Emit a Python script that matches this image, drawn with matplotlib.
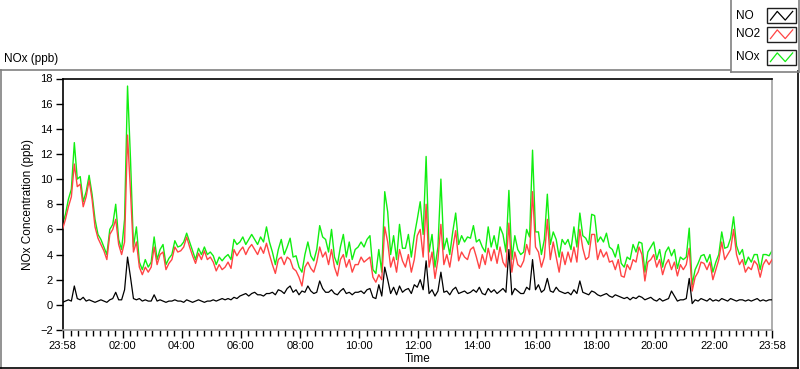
import numpy as np
import matplotlib
matplotlib.use("Agg")
import matplotlib.pyplot as plt
from matplotlib.lines import Line2D
from matplotlib.patches import Rectangle

# ---------------- data (6-minute samples from 23:58 to 23:58) ----------------
step_min = 6
no2 = [
    6.0, 6.8, 7.8, 8.6, 11.2, 9.4, 9.6, 7.8, 8.6, 9.9,
    8.4, 6.2, 5.3, 4.8, 4.3, 3.6, 5.6, 6.0, 6.8, 4.8,
    4.0, 5.0, 13.5, 9.0, 4.2, 5.0, 3.0, 2.4, 3.0, 2.6,
    3.0, 4.6, 3.2, 4.0, 4.2, 2.8, 3.3, 3.6, 4.6, 4.2,
    4.3, 4.6, 5.4, 4.6, 3.9, 3.3, 4.1, 3.6, 4.3, 3.6,
    3.8, 3.4, 2.7, 3.2, 2.8, 3.0, 3.4, 2.9, 4.4, 3.9,
    4.3, 4.6, 4.0, 4.5, 4.8, 4.4, 4.0, 4.6, 4.1, 4.9,
    4.0, 3.2, 2.5, 3.6, 3.8, 3.2, 3.8, 3.6, 2.9, 2.7,
    2.2, 1.5, 3.0, 3.4, 2.9, 2.6, 3.4, 4.6, 3.8, 4.2,
    3.2, 4.4, 3.0, 2.3, 3.6, 4.0, 3.0, 3.6, 2.6, 3.2,
    3.2, 3.8, 3.4, 3.6, 3.8, 2.2, 1.8, 2.4, 2.0, 6.2,
    5.0, 3.0, 3.8, 2.6, 4.4, 3.5, 3.0, 4.0, 2.6, 3.6,
    5.5, 6.0, 3.8, 8.0, 3.0, 4.2, 2.1, 3.6, 6.4, 3.2,
    4.0, 3.0, 4.5, 5.9, 3.5, 4.2, 3.8, 3.6, 4.4, 4.6,
    3.8, 2.9, 4.0, 3.2, 4.5, 3.5, 4.4, 3.3, 4.6, 3.4,
    3.0, 6.5, 2.6, 4.2, 3.2, 3.0, 3.5, 4.8, 4.0, 9.0,
    4.6, 4.2, 3.0, 3.8, 6.8, 3.6, 5.0, 3.8, 2.6, 4.2,
    3.2, 4.2, 3.4, 4.6, 3.4, 6.0, 4.5, 3.6, 3.8, 5.6,
    5.6, 3.6, 4.4, 3.8, 4.2, 3.4, 3.5, 2.8, 3.6, 2.3,
    2.2, 3.2, 2.8, 3.6, 3.4, 4.6, 4.0, 1.9, 3.4, 3.6,
    4.0, 3.0, 3.6, 2.4, 3.2, 3.6, 2.8, 3.4, 2.3, 3.2,
    2.8, 3.2, 4.5, 1.1, 2.2, 2.6, 3.4, 3.3, 2.8, 3.4,
    2.0, 2.8, 3.6, 5.0, 3.6, 4.0, 4.4, 6.0, 4.0, 3.2,
    3.6, 2.6, 3.0, 2.8, 3.5, 3.2, 2.2, 3.2, 3.6, 3.2,
    3.6]

nox = [
    6.4, 7.2, 8.4, 9.2, 12.9, 10.0, 10.2, 8.2, 9.0, 10.3,
    8.8, 6.8, 5.6, 5.2, 4.6, 4.0, 6.0, 6.4, 8.0, 5.2,
    4.4, 6.8, 17.4, 11.6, 4.6, 6.2, 3.4, 2.8, 3.6, 3.0,
    3.4, 5.4, 3.6, 4.4, 4.8, 3.2, 3.7, 4.0, 5.1, 4.6,
    4.7, 5.0, 5.7, 5.0, 4.3, 3.6, 4.5, 4.0, 4.6, 4.0,
    4.2, 3.9, 3.2, 3.8, 3.5, 3.8, 4.0, 3.6, 5.2, 4.8,
    5.0, 5.4, 4.8, 5.2, 5.6, 5.2, 4.8, 5.4, 5.0, 6.2,
    5.0, 4.2, 3.2, 4.4, 5.2, 4.0, 4.6, 5.3, 3.8, 3.9,
    3.0, 2.6, 4.0, 5.0, 3.9, 3.5, 4.4, 6.3, 5.4, 5.2,
    4.2, 6.0, 3.8, 3.2, 4.6, 5.6, 3.8, 5.0, 3.6, 4.4,
    4.6, 5.0, 4.6, 5.2, 5.5, 2.8, 2.5, 4.4, 2.6, 9.0,
    7.4, 4.0, 5.5, 3.6, 6.4, 4.5, 4.5, 5.6, 3.8, 5.5,
    6.8, 8.2, 5.6, 11.8, 4.2, 5.6, 3.0, 4.6, 10.0, 4.4,
    5.3, 4.0, 5.8, 7.3, 4.8, 5.5, 5.0, 5.4, 5.3, 6.3,
    5.0, 5.2, 4.6, 4.2, 6.2, 4.6, 5.5, 4.4, 6.2, 5.6,
    4.2, 9.1, 3.6, 5.5, 4.4, 4.0, 4.2, 6.0, 5.4, 12.3,
    5.8, 5.8, 4.0, 5.2, 8.8, 4.8, 5.8, 5.2, 3.8, 5.2,
    4.8, 5.2, 4.4, 6.2, 4.6, 7.3, 5.5, 5.3, 4.8, 7.2,
    7.1, 5.0, 5.4, 5.0, 5.7, 4.6, 4.4, 3.8, 4.8, 3.3,
    3.0, 3.8, 3.6, 4.8, 4.2, 5.0, 4.9, 2.6, 4.2, 4.6,
    5.0, 3.6, 4.4, 3.0, 4.2, 4.6, 3.9, 4.4, 2.9, 3.8,
    3.6, 3.8, 6.1, 1.6, 2.8, 3.3, 3.9, 4.0, 3.4, 4.0,
    2.6, 3.4, 4.0, 5.8, 4.5, 4.6, 5.3, 7.0, 4.7, 4.0,
    4.4, 3.2, 3.8, 3.4, 4.0, 4.0, 2.8, 4.0, 4.0, 3.9,
    4.3]

no = [
    0.2, 0.3, 0.4, 0.3, 1.5, 0.5, 0.4, 0.6, 0.3, 0.4,
    0.3, 0.2, 0.3, 0.4, 0.3, 0.2, 0.4, 0.5, 1.0, 0.4,
    0.4, 1.2, 3.8, 2.2, 0.5, 0.4, 0.5, 0.3, 0.4, 0.3,
    0.3, 0.8, 0.3, 0.4, 0.3, 0.2, 0.3, 0.3, 0.4, 0.3,
    0.3, 0.2, 0.4, 0.3, 0.2, 0.3, 0.4, 0.3, 0.2, 0.3,
    0.3, 0.4, 0.3, 0.4, 0.5, 0.4, 0.5, 0.4, 0.6, 0.5,
    0.7, 0.8, 0.9, 0.7, 0.9, 1.0, 0.8, 0.8, 0.7, 0.9,
    0.9, 1.0, 0.8, 1.2, 1.1, 0.9, 1.3, 1.5, 1.0, 1.2,
    0.8, 1.1, 1.0, 1.5, 1.1, 0.9, 1.0, 1.9, 1.3, 1.0,
    1.0, 1.2, 0.9, 0.8, 1.1, 1.3, 0.9, 1.0, 0.8, 1.0,
    1.0, 1.1, 0.9, 1.2, 1.3, 0.6, 0.5, 1.6, 0.7, 3.0,
    2.0, 0.9, 1.4, 0.8, 1.5, 1.0, 1.2, 1.3, 0.9, 1.6,
    1.4, 2.0, 1.2, 3.5, 0.9, 1.2, 0.7, 1.1, 2.6, 1.0,
    1.1, 0.8, 1.2, 1.4, 0.9, 1.0, 1.1, 0.9, 1.0, 1.2,
    1.0, 1.4, 0.9, 0.8, 1.3, 1.0, 1.2, 0.9, 1.1, 1.3,
    1.0, 4.4, 0.8, 1.3, 1.1, 0.9, 0.9, 1.4, 1.2, 3.6,
    1.2, 1.6, 1.0, 1.2, 2.1, 1.1, 1.0, 1.4, 1.1, 1.0,
    0.9, 1.0, 0.8, 1.2, 0.9, 1.9, 1.0, 0.9, 0.8, 1.1,
    1.0, 0.8, 0.7, 0.8, 0.9, 0.7, 0.6, 0.8, 0.7, 0.6,
    0.5, 0.6, 0.4, 0.6, 0.5, 0.7, 0.6, 0.4, 0.5, 0.6,
    0.4, 0.3, 0.5, 0.3, 0.4, 0.5, 1.1, 0.7, 0.3, 0.4,
    0.4, 0.5, 2.1, 0.1, 0.4, 0.3, 0.5, 0.4, 0.3, 0.5,
    0.3, 0.4, 0.3, 0.5, 0.4, 0.3, 0.5, 0.4, 0.3, 0.4,
    0.4, 0.3, 0.4, 0.3, 0.4, 0.5, 0.3, 0.4, 0.3, 0.4,
    0.4]

tick_labels = ["23:58", "02:00", "04:00", "06:00", "08:00", "10:00", "12:00",
               "14:00", "16:00", "18:00", "20:00", "22:00", "23:58"]
series_names = ["NO", "NO2", "NOx"]

# ---------------- styling ----------------
W, H = 800, 369
FONT = ["Liberation Sans", "DejaVu Sans"]
plt.rcParams["font.family"] = FONT
C_NO, C_NO2, C_NOX = "#000000", "#ff4444", "#11ee11"

fig = plt.figure(figsize=(W / 100, H / 100), dpi=100)
fig.patch.set_facecolor("white")

def fx(px):
    return px / W

def fy(py):
    return 1 - py / H

L, R, T, B = 62.5, 772, 78.5, 330
ax = fig.add_axes([fx(L), fy(B), fx(R) - fx(L), fy(T) - fy(B)])

t = np.arange(len(no2)) * step_min
ax.plot(t, nox, color=C_NOX, lw=1.0, zorder=2)
ax.plot(t, no2, color=C_NO2, lw=1.0, zorder=3)
ax.plot(t, no, color=C_NO, lw=0.9, zorder=4)

ax.set_xlim(0, 1440)
ax.set_ylim(-2, 18)
ax.set_yticks(np.arange(-2, 19, 2))
major = [0] + [122 + 120 * k for k in range(11)] + [1440]
ax.set_xticks(major)
ax.set_xticklabels(tick_labels)
minor = [m for m in range(17, 1440, 15) if m not in major]
ax.set_xticks(minor, minor=True)

ax.tick_params(axis="both", which="major", labelsize=8, colors="black",
               direction="out", width=1)
ax.tick_params(axis="y", length=5, pad=2)
ax.tick_params(axis="x", which="major", length=6, pad=2)
ax.tick_params(axis="x", which="minor", length=4, width=1, color="black")

for s in ["top", "left"]:
    ax.spines[s].set_color("black")
    ax.spines[s].set_linewidth(1.2)
for s in ["bottom", "right"]:
    ax.spines[s].set_color("#a0a0a0")
    ax.spines[s].set_linewidth(1.2)

ax.set_ylabel("NOx Concentration (ppb)", fontsize=8.5, labelpad=4)
ax.set_xlabel("Time", fontsize=8.5, labelpad=1)

# ---------------- frame and title ----------------
gray = "#808080"
fig.add_artist(Line2D([fx(0), fx(730)], [fy(69.5), fy(69.5)], color=gray, lw=1.2,
                      transform=fig.transFigure))
fig.add_artist(Line2D([fx(0.8), fx(0.8)], [fy(69.5), fy(368)], color=gray, lw=1.2,
                      transform=fig.transFigure))
fig.add_artist(Line2D([fx(0), fx(797.5)], [fy(367.8), fy(367.8)], color="black", lw=1.2,
                      transform=fig.transFigure))
fig.add_artist(Line2D([fx(797.5), fx(797.5)], [fy(71), fy(368)], color="black", lw=1.2,
                      transform=fig.transFigure))
fig.text(fx(4), fy(59), "NOx (ppb)", fontsize=8.5, ha="left", va="center")

# ---------------- legend ----------------
fig.add_artist(Line2D([fx(730.5), fx(730.5)], [fy(0), fy(71.5)], color=gray, lw=1.2,
                      transform=fig.transFigure))
fig.add_artist(Line2D([fx(730.5), fx(799)], [fy(71.5), fy(71.5)], color=gray, lw=1.2,
                      transform=fig.transFigure))
fig.add_artist(Line2D([fx(799), fx(799)], [fy(0), fy(71.5)], color=gray, lw=1.2,
                      transform=fig.transFigure))
box_tops = [8.5, 27, 50]
box_h = 14.5
colors = [C_NO, C_NO2, C_NOX]
for name, top, col in zip(series_names, box_tops, colors):
    x0, x1 = 767, 795.5
    fig.add_artist(Rectangle((fx(x0), fy(top + box_h)), fx(x1) - fx(x0),
                             fy(top) - fy(top + box_h), facecolor="white",
                             edgecolor="#202020", lw=1.0, transform=fig.transFigure))
    xs = [x0 + 0.12 * (x1 - x0), x0 + 0.36 * (x1 - x0), x0 + 0.64 * (x1 - x0), x0 + 0.9 * (x1 - x0)]
    ys = [top + 0.8 * box_h, top + 0.2 * box_h, top + 0.8 * box_h, top + 0.2 * box_h]
    fig.add_artist(Line2D([fx(v) for v in xs], [fy(v) for v in ys], color=col, lw=0.9,
                          transform=fig.transFigure))
    fig.text(fx(736), fy(top + box_h / 2), name, fontsize=8.5, ha="left", va="center")

fig.savefig("out.png", dpi=100)
